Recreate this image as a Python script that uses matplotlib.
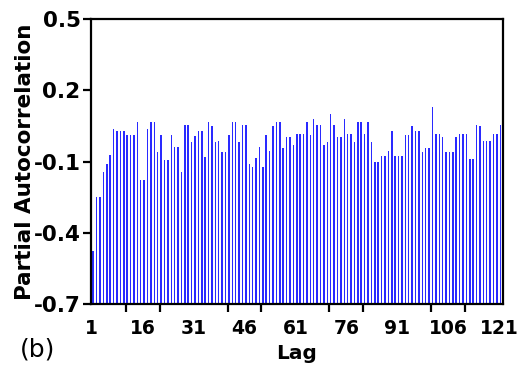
import numpy as np
import matplotlib
matplotlib.use("Agg")
import matplotlib.pyplot as plt
from matplotlib.ticker import FixedLocator

# partial autocorrelation by lag
lags = np.arange(1, 122)
pacf = [
    -0.478, -0.251, -0.251, -0.142, -0.111, -0.074, 0.038, 0.030, 0.030, 0.030,
    0.013, 0.013, 0.013, 0.068, -0.179, -0.179, 0.038, 0.068, 0.068, -0.061,
    0.013, -0.093, -0.093, 0.013, -0.037, -0.037, -0.142, 0.055, 0.055, -0.019,
    0.006, 0.030, 0.030, -0.081, 0.068, 0.050, -0.019, -0.013, -0.061, -0.061,
    0.013, 0.068, 0.068, -0.019, 0.055, 0.055, -0.112, -0.124, -0.087, -0.037,
    -0.124, 0.013, -0.056, 0.050, 0.068, 0.068, -0.043, 0.005, 0.005, -0.030,
    0.018, 0.018, 0.018, 0.068, 0.013, 0.080, 0.055, 0.055, -0.030, -0.019,
    0.100, 0.055, 0.005, 0.005, 0.080, 0.018, 0.018, -0.019, 0.068, 0.068,
    0.018, 0.068, -0.019, -0.104, -0.104, -0.075, -0.075, -0.056, 0.030, -0.075,
    -0.075, -0.075, 0.013, 0.013, 0.050, 0.030, 0.030, -0.061, -0.043, -0.043,
    0.131, 0.018, 0.018, 0.005, -0.061, -0.061, -0.061, 0.005, 0.018, 0.018,
    0.018, -0.088, -0.088, 0.055, 0.050, -0.013, -0.013, -0.013, 0.018, 0.018,
    0.055,
]
y_ticks = [-0.7, -0.4, -0.1, 0.2, 0.5]
x_label_ticks = list(range(1, 122, 15))
x_mark_ticks = list(range(1, 122, 10))

y_floor = -0.7

fig = plt.figure(figsize=(5.21, 3.67), dpi=100)
ax = fig.add_axes([0.1747, 0.1717, 0.7908, 0.7763])

heights = np.array(pacf) - y_floor
ax.bar(lags + 0.4, heights, bottom=y_floor, width=0.44, color="#2a2aff",
       linewidth=0)

ax.set_xlim(0.75, 122.2)
ax.set_ylim(-0.7, 0.5)

for s in ax.spines.values():
    s.set_linewidth(1.6)
    s.set_color("black")

ax.set_yticks(y_ticks)
ax.set_yticklabels([f"{v:.1f}" for v in y_ticks])
ax.tick_params(axis="y", direction="out", length=5.5, width=1.6, pad=2,
               labelsize=15.5)

# labels sit on major ticks (no marks), tick marks are the minor ones
ax.xaxis.set_major_locator(FixedLocator(x_label_ticks))
ax.set_xticklabels([str(v) for v in x_label_ticks])
ax.xaxis.set_minor_locator(FixedLocator(x_mark_ticks))
ax.tick_params(axis="x", which="major", length=0, pad=11, labelsize=13.5)
ax.tick_params(axis="x", which="minor", direction="out", length=5.5, width=1.6)

for lab in ax.get_xticklabels() + ax.get_yticklabels():
    lab.set_fontweight("bold")

ax.set_xlabel("Lag", fontsize=14.5, fontweight="bold")
ax.xaxis.set_label_coords(0.5, -0.14)
ax.set_ylabel("Partial Autocorrelation", fontsize=15.5, fontweight="bold")
ax.yaxis.set_label_coords(-0.135, 0.5)

fig.text(0.038, 0.0477, "(b)", fontsize=18, va="center", ha="left")

fig.savefig("out.png", dpi=100)
